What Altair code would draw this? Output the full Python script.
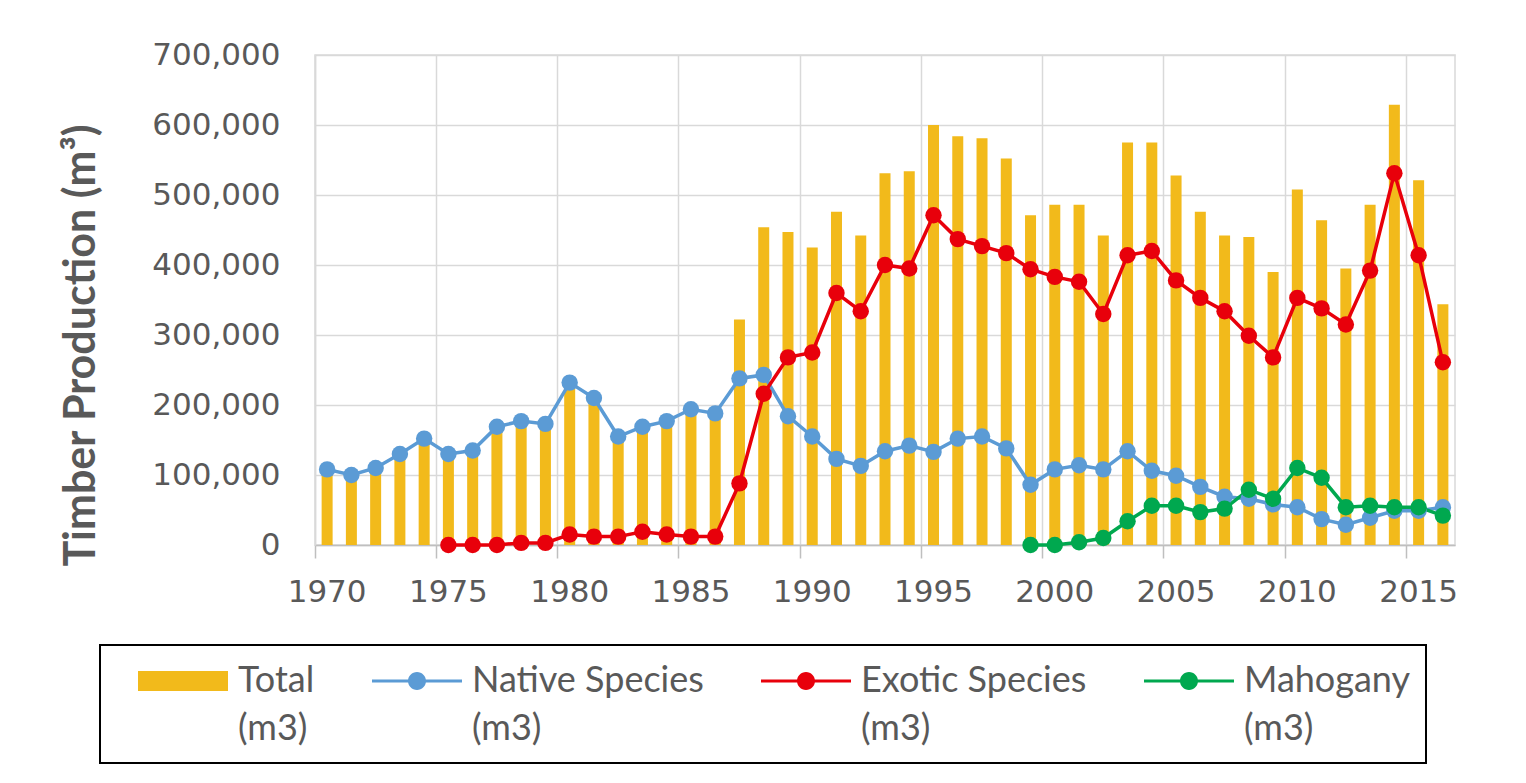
import altair as alt
import pandas as pd

# ---------------- data ----------------
years = list(range(1970, 2017))
total = [108000, 100000, 110000, 130000, 152000, 132000, 137000, 172000, 180000, 176000,
         238000, 216000, 160000, 176000, 183000, 200000, 194000,
         322000, 454000, 447000, 425000, 476000, 442000, 531000, 534000, 600000, 584000,
         581000, 552000, 471000, 486000, 486000, 442000, 575000, 575000, 528000, 476000,
         442000, 440000, 390000, 508000, 464000, 395000, 486000, 629000, 521000, 344000]
native = [108000, 100000, 110000, 130000, 152000, 130000, 135000, 169000, 177000, 173000,
          232000, 210000, 155000, 169000, 177000, 194000, 188000, 238000, 243000, 184000,
          155000, 123000, 113000, 134000, 142000, 133000, 152000, 155000, 138000, 86000,
          108000, 114000, 108000, 134000, 106000, 99000, 83000, 69000, 66000, 58000,
          54000, 37000, 29000, 39000, 49000, 49000, 54000]
exotic_years = list(range(1975, 2017))
exotic = [0, 0, 0, 3000, 3000, 15000, 12000, 12000, 19000, 15000, 12000, 12000,
          88000, 216000, 268000, 275000, 360000, 334000, 400000, 395000, 471000, 437000,
          427000, 417000, 394000, 383000, 376000, 330000, 414000, 420000, 378000, 353000,
          334000, 299000, 268000, 353000, 338000, 315000, 392000, 531000, 414000, 261000]
mahogany_years = list(range(1999, 2017))
mahogany = [0, 0, 4000, 10000, 34000, 56000, 56000, 47000, 52000, 79000, 66000,
            110000, 96000, 54000, 56000, 54000, 54000, 42000]

series_names = ["Total (m3)", "Native Species (m3)", "Exotic Species (m3)", "Mahogany (m3)"]
series_colors = ["#F2BA1B", "#5B9BD5", "#E8000B", "#00A84F"]
x_tick_years = [1970, 1975, 1980, 1985, 1990, 1995, 2000, 2005, 2010, 2015]
y_ticks = [0, 100000, 200000, 300000, 400000, 500000, 600000, 700000]

rows = []
for y, v in zip(years, total):
    rows.append({"year": y, "series": series_names[0], "value": v})
for y, v in zip(years, native):
    rows.append({"year": y, "series": series_names[1], "value": v})
for y, v in zip(exotic_years, exotic):
    rows.append({"year": y, "series": series_names[2], "value": v})
for y, v in zip(mahogany_years, mahogany):
    rows.append({"year": y, "series": series_names[3], "value": v})
df = pd.DataFrame(rows)

# ---------------- styling ----------------
GRID = "#D9D9D9"
TEXT = "#595959"
PLOT_W, PLOT_H = 1140, 490

cscale = alt.Scale(domain=series_names, range=series_colors)

# legend symbols: a filled bar for Total, a line with a dot for the others
rect_path = "M0.1,-0.5H4.6V0.5H0.1Z"
line_path = ("M0.1,-0.075H4.6V0.075H0.1Z "
             "M1.9,0A0.45,0.45 0 1,1 2.8,0A0.45,0.45 0 1,1 1.9,0Z")
sscale = alt.Scale(domain=series_names, range=[rect_path, line_path, line_path, line_path])

legend = alt.Legend(
    title=None,
    orient="none",
    legendX=-215,
    legendY=590,
    direction="horizontal",
    columns=4,
    labelFont="Lato",
    labelFontSize=36,
    labelColor=TEXT,
    labelLimit=500,
    labelOffset=82,
    symbolSize=1600,
    symbolStrokeWidth=0,
    symbolOpacity=1,
    columnPadding=35,
    padding=16,
    strokeColor="black",
    fillColor="white",
    labelExpr="[replace(datum.label, ' (m3)', ''), '(m3)']",
)

x_enc = alt.X(
    "year:O",
    scale=alt.Scale(paddingInner=0, paddingOuter=0),
    axis=alt.Axis(
        values=x_tick_years,
        bandPosition=0,
        labelAngle=0,
        labelFont="DejaVu Sans",
        labelFontSize=31,
        labelColor=TEXT,
        labelPadding=19,
        ticks=True,
        tickSize=13,
        tickColor="#BFBFBF",
        tickWidth=1.5,
        grid=True,
        gridColor=GRID,
        gridWidth=1.5,
        domainColor="#BFBFBF",
        domainWidth=1.5,
        title=None,
    ),
)
y_enc = alt.Y(
    "value:Q",
    scale=alt.Scale(domain=[0, 700000], nice=False),
    axis=alt.Axis(
        values=y_ticks,
        format=",.0f",
        title="Timber Production (m³)",
        titleFont="Lato",
        titleFontSize=43,
        titleFontWeight="bold",
        titleColor=TEXT,
        titleX=-234,
        titleY=290,
        titleAngle=270,
        titleAlign="center",
        titleBaseline="middle",
        labelFont="DejaVu Sans",
        labelFontSize=31,
        labelColor=TEXT,
        labelPadding=35,
        ticks=False,
        domainColor=GRID,
        domainWidth=1.5,
        grid=True,
        gridColor=GRID,
        gridWidth=1.5,
    ),
)

base = alt.Chart(df)
# legend carrier first: no rows pass the filter, it only provides the merged legend
legend_layer = base.transform_filter(alt.datum.value < 0).mark_point(filled=True, opacity=1).encode(
    x=x_enc, y=y_enc,
    color=alt.Color("series:N", scale=cscale, legend=legend),
    shape=alt.Shape("series:N", scale=sscale, legend=legend),
)
bars = base.transform_filter(alt.datum.series == series_names[0]).mark_bar(size=11).encode(
    x=x_enc, y=y_enc, color=alt.Color("series:N", scale=cscale)
)
lines = base.transform_filter(alt.datum.series != series_names[0]).mark_line(strokeWidth=3.5).encode(
    x=x_enc, y=y_enc, color=alt.Color("series:N", scale=cscale)
)
points = base.transform_filter(alt.datum.series != series_names[0]).mark_circle(size=270, opacity=1).encode(
    x=x_enc, y=y_enc, color=alt.Color("series:N", scale=cscale)
)

chart = alt.layer(legend_layer, bars, lines, points).properties(
    width=PLOT_W,
    height=PLOT_H,
    padding={"left": 307, "top": 47, "right": 40, "bottom": 225},
    autosize=alt.AutoSizeParams(type="none"),
    background="white",
).configure(
    style={"guide-label": {"lineHeight": 48}}
).configure_view(stroke=GRID, strokeWidth=1.5).configure_legend(strokeWidth=2)

chart.save("out.html", embed_options={"renderer": "svg", "actions": False})
